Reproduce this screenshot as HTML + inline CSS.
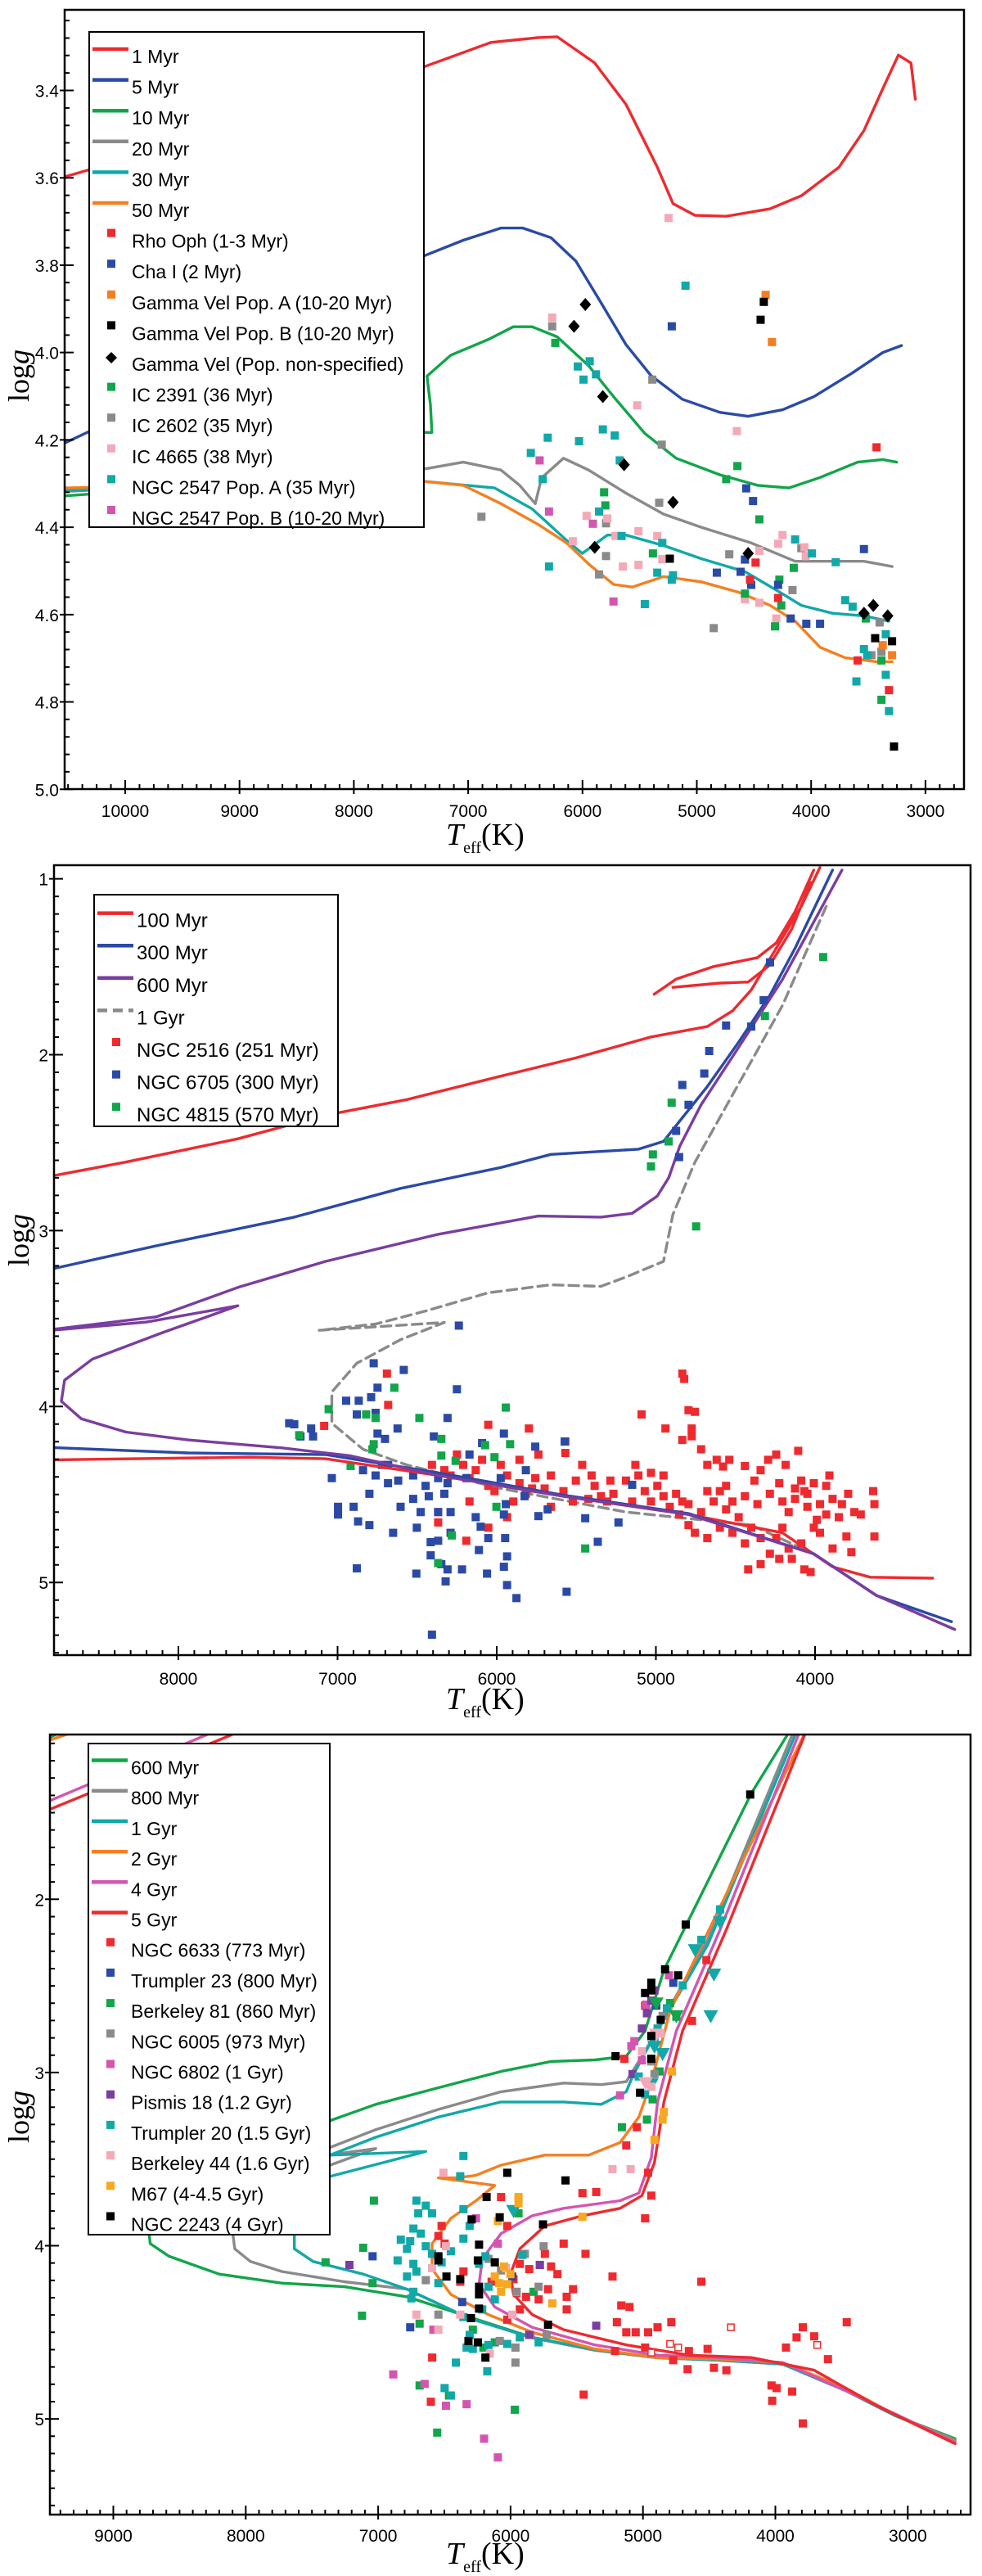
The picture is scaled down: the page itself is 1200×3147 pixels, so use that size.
<!DOCTYPE html>
<html><head><meta charset="utf-8">
<style>
html,body{margin:0;padding:0;background:#fff;}
svg{display:block;}
text{font-family:"Liberation Sans",sans-serif;}
.serif{font-family:"Liberation Serif",serif;}
</style></head>
<body>
<svg id="fig" width="1200" height="3147" viewBox="0 0 1200 3147" xmlns="http://www.w3.org/2000/svg"></svg>
<script>
// ===================== PANEL 1 DATA =====================
var p1_xTicks = [10000,9000,8000,7000,6000,5000,4000,3000];
var p1_xTickLabels = ["10000","9000","8000","7000","6000","5000","4000","3000"];
var p1_yTicks = [3.4,3.6,3.8,4.0,4.2,4.4,4.6,4.8,5.0];
var p1_yTickLabels = ["3.4","3.6","3.8","4.0","4.2","4.4","4.6","4.8","5.0"];
var p1_iso1 = [[10520,3.597],[9500,3.52],[8500,3.44],[7388,3.346],[6800,3.29],[6386,3.279],[6221,3.277],[5893,3.337],[5619,3.432],[5345,3.576],[5208,3.659],[5016,3.686],[4743,3.688],[4359,3.671],[4085,3.641],[3757,3.576],[3538,3.492],[3374,3.396],[3237,3.319],[3127,3.337],[3089,3.42]];
var p1_iso5 = [[10520,4.206],[9500,4.08],[8500,3.95],[7388,3.779],[7043,3.743],[6714,3.715],[6522,3.715],[6276,3.737],[6057,3.791],[5838,3.886],[5619,3.982],[5400,4.053],[5126,4.107],[4797,4.137],[4551,4.146],[4250,4.131],[3976,4.101],[3647,4.048],[3374,4.0],[3209,3.984]];
var p1_iso10 = [[10520,4.328],[9000,4.3],[7600,4.183],[7317,4.183],[7330,4.12],[7360,4.054],[7152,4.006],[6823,3.97],[6605,3.941],[6440,3.941],[6221,3.964],[5947,4.03],[5728,4.101],[5455,4.185],[5181,4.242],[4797,4.28],[4469,4.304],[4195,4.31],[3921,4.286],[3593,4.251],[3374,4.245],[3253,4.251]];
var p1_iso20 = [[10520,4.318],[9000,4.3],[7388,4.267],[7043,4.251],[6714,4.269],[6550,4.304],[6413,4.346],[6358,4.287],[6166,4.242],[5947,4.269],[5619,4.322],[5290,4.37],[4961,4.4],[4524,4.436],[4140,4.478],[3812,4.478],[3538,4.478],[3291,4.49]];
var p1_iso30 = [[10520,4.316],[9000,4.305],[7388,4.295],[6769,4.31],[6440,4.358],[6139,4.43],[6002,4.46],[5783,4.418],[5619,4.418],[5290,4.442],[4961,4.472],[4578,4.502],[4305,4.544],[4085,4.579],[3812,4.597],[3538,4.603],[3319,4.615]];
var p1_iso50 = [[10520,4.31],[9000,4.302],[7388,4.295],[7043,4.304],[6714,4.346],[6385,4.394],[6139,4.436],[5947,4.484],[5728,4.531],[5564,4.537],[5290,4.513],[4961,4.525],[4633,4.549],[4359,4.579],[4140,4.615],[3921,4.675],[3702,4.699],[3428,4.708],[3291,4.708]];
var p1_rhoOph = [[3428,4.217],[4486,4.481],[4289,4.562],[3593,4.705],[3319,4.773],[4535,4.52]];
var p1_chaI = [[5219,3.94],[4568,4.311],[4508,4.34],[4617,4.502],[4825,4.504],[4579,4.474],[4289,4.532],[4179,4.609],[4042,4.621],[3922,4.621],[3538,4.45],[4524,4.532]];
var p1_gvelA = [[4398,3.868],[4343,3.976],[3292,4.693],[3374,4.67]];
var p1_gvelB = [[4414,3.884],[4442,3.925],[5236,4.472],[3440,4.654],[3292,4.661],[3275,4.902]];
var p1_gvelNS = [[6074,3.94],[5975,3.89],[5822,4.101],[5636,4.257],[5208,4.343],[5893,4.446],[4551,4.46],[3538,4.597],[3456,4.579],[3330,4.603]];
var p1_ic2391 = [[6238,3.978],[5811,4.32],[5800,4.35],[5384,4.46],[4743,4.29],[4645,4.26],[4453,4.382],[4579,4.552],[4278,4.52],[4261,4.579],[4316,4.627],[4152,4.493],[3522,4.609],[3385,4.795],[3385,4.705]];
var p1_ic2602 = [[6265,3.94],[6884,4.376],[5855,4.508],[5794,4.466],[5794,4.391],[5389,4.062],[5307,4.211],[5329,4.344],[4716,4.462],[4852,4.631],[4163,4.544],[4086,4.448],[3401,4.618],[3473,4.693],[3385,4.685]];
var p1_ic4665 = [[6265,3.92],[5247,3.692],[5521,4.121],[4650,4.18],[5964,4.374],[5783,4.38],[5712,4.42],[5647,4.49],[6085,4.432],[5510,4.409],[5510,4.486],[5346,4.42],[5302,4.473],[4453,4.454],[4579,4.565],[4453,4.573],[4289,4.438],[4250,4.418],[4058,4.446],[4047,4.466],[4305,4.609]];
var p1_n2547A = [[5099,3.847],[6041,4.032],[5937,4.02],[5882,4.05],[5991,4.062],[6304,4.195],[6030,4.203],[5822,4.176],[5718,4.19],[6452,4.23],[6348,4.29],[5674,4.247],[5855,4.364],[6293,4.49],[5658,4.42],[5302,4.436],[5346,4.504],[5208,4.51],[5219,4.52],[5455,4.576],[4140,4.428],[3993,4.46],[3785,4.48],[3702,4.567],[3637,4.582],[3538,4.679],[3510,4.693],[3604,4.753],[3347,4.738],[3319,4.821],[3347,4.645]];
var p1_n2547B = [[6375,4.247],[6293,4.364],[5909,4.392],[5729,4.57]];

// ===================== PANEL 2 DATA =====================
var p2_xTicks = [8000,7000,6000,5000,4000];
var p2_xTickLabels = ["8000","7000","6000","5000","4000"];
var p2_yTicks = [1,2,3,4,5];
var p2_yTickLabels = ["1","2","3","4","5"];
var p2_iso100a = [[8775,2.686],[8334,2.611],[7626,2.478],[7076,2.344],[6564,2.255],[5975,2.122],[5503,2.018],[5031,1.899],[4677,1.84],[4519,1.751],[4401,1.632],[4244,1.395],[4087,1.157],[3969,0.935]];
var p2_iso100b = [[5011,1.656],[4873,1.57],[4637,1.499],[4362,1.448],[4244,1.365],[4126,1.187],[4008,0.95]];
var p2_iso100c = [[4893,1.617],[4598,1.593],[4420,1.587],[4284,1.49],[4146,1.285],[4028,1.02]];
var p2_iso100ms = [[8775,4.303],[7548,4.288],[7076,4.297],[6368,4.392],[5581,4.51],[4795,4.614],[4205,4.718],[3890,4.911],[3654,4.97],[3261,4.976]];
var p2_iso300a = [[8775,3.214],[8138,3.086],[7272,2.923],[6604,2.76],[5975,2.641],[5660,2.567],[5109,2.537],[4952,2.493],[4834,2.359],[4677,2.181],[4480,1.929],[4284,1.662],[4126,1.395],[3890,0.95]];
var p2_iso300ms = [[8775,4.234],[7941,4.264],[7076,4.273],[6368,4.377],[5581,4.504],[4795,4.608],[4008,4.837],[3615,5.074],[3143,5.223]];
var p2_iso600a = [[8775,3.56],[8138,3.49],[7626,3.323],[7076,3.175],[6368,3.021],[5739,2.917],[5346,2.923],[5149,2.902],[4992,2.804],[4920,2.7],[4850,2.52],[4716,2.285],[4480,1.958],[4205,1.573],[3831,0.95]];
var p2_iso600ms = [[8775,3.565],[8200,3.52],[7626,3.427],[8100,3.58],[8540,3.73],[8715,3.85],[8735,3.97],[8610,4.07],[8330,4.145],[7941,4.19],[7350,4.235],[6920,4.28],[6368,4.392],[5581,4.51],[4795,4.614],[4008,4.837],[3615,5.074],[3123,5.267]];
var p2_iso1g = [[3930,1.157],[4205,1.721],[4480,2.166],[4755,2.611],[4893,2.908],[4952,3.175],[5188,3.264],[5346,3.317],[5660,3.308],[6053,3.353],[6447,3.457],[6761,3.531],[7115,3.567],[6329,3.522],[6604,3.62],[6879,3.754],[7036,3.917],[7036,4.095],[6840,4.243],[6565,4.332],[5975,4.466],[5188,4.6],[4401,4.674],[4008,4.837],[3615,5.074],[3123,5.267]];
var p2_n6705 = [[4283,1.475],[4559,1.834],[4665,1.979],[4834,2.172],[4696,2.107],[4795,2.285],[4873,2.433],[4854,2.582],[4401,1.84],[4323,1.69],[6238,3.54],[6773,3.754],[6584,3.792],[6749,3.893],[6250,3.902],[6946,3.967],[6867,3.967],[6789,3.947],[6761,4.036],[6879,4.045],[7304,4.095],[7272,4.101],[6309,4.065],[6749,4.154],[6702,4.184],[7166,4.125],[7233,4.17],[7154,4.17],[6623,4.125],[6395,4.17],[5955,4.154],[5758,4.228],[5573,4.199],[6092,4.208],[7036,4.407],[6840,4.362],[6761,4.392],[6683,4.436],[6800,4.496],[6722,4.332],[6619,4.421],[6525,4.392],[6447,4.451],[6368,4.407],[6525,4.525],[6604,4.57],[6427,4.51],[6329,4.496],[6309,4.436],[6191,4.407],[6290,4.6],[6368,4.6],[6478,4.6],[6997,4.614],[6899,4.57],[6871,4.653],[6800,4.674],[6651,4.718],[6502,4.689],[6368,4.763],[6290,4.718],[6132,4.629],[6101,4.683],[5955,4.614],[5943,4.555],[5825,4.51],[5738,4.623],[5680,4.585],[5947,4.748],[5935,4.852],[5955,4.911],[6053,4.748],[6112,4.816],[6415,4.771],[6415,4.846],[6348,4.896],[6309,4.926],[6505,4.95],[6879,4.92],[6321,4.994],[6218,4.926],[6061,4.95],[5935,5.015],[5876,5.089],[5561,5.053],[5444,4.635],[5365,4.769],[5235,4.659],[5149,4.445],[6407,5.297],[6997,4.57],[6171,4.273],[5975,4.407],[5817,4.362],[6682,4.332]];
var p2_n4815 = [[3949,1.445],[4315,1.78],[4901,2.273],[4920,2.493],[5019,2.567],[5031,2.635],[4747,2.976],[6643,3.893],[7056,4.015],[5943,4.006],[6486,4.065],[6761,4.065],[6820,4.045],[7241,4.163],[6348,4.184],[6073,4.22],[5916,4.214],[6781,4.243],[6258,4.309],[6348,4.279],[6918,4.338],[6014,4.288],[6002,4.57],[6282,4.733],[5444,4.807],[6368,4.89],[6773,4.214]];
var p2_n2516 = [[4834,3.813],[4822,3.843],[4795,4.021],[4755,4.03],[4775,4.125],[4775,4.169],[4834,4.19],[5090,4.045],[4940,4.125],[4106,4.252],[4244,4.273],[6690,3.813],[6682,3.991],[7084,4.11],[6053,4.104],[5798,4.125],[5569,4.264],[5569,4.199],[4716,4.243],[4677,4.332],[4618,4.303],[4578,4.341],[4539,4.303],[4441,4.338],[4342,4.362],[4295,4.303],[4185,4.332],[4087,4.421],[4067,4.481],[4008,4.436],[3930,4.451],[3792,4.496],[3635,4.481],[3627,4.555],[3713,4.614],[3627,4.739],[3772,4.828],[3803,4.739],[3890,4.807],[3969,4.718],[3989,4.644],[4048,4.57],[4126,4.525],[4166,4.6],[4205,4.689],[4244,4.748],[4284,4.837],[4225,4.866],[4146,4.866],[4067,4.926],[4028,4.941],[4342,4.896],[4420,4.926],[4441,4.778],[4519,4.718],[4598,4.689],[4677,4.748],[4755,4.718],[4795,4.674],[4854,4.614],[4913,4.57],[4952,4.51],[4991,4.451],[5031,4.54],[5070,4.481],[5110,4.392],[5188,4.421],[5267,4.496],[5345,4.51],[5385,4.451],[5424,4.525],[5503,4.421],[5522,4.54],[5581,4.481],[5660,4.57],[5699,4.466],[5758,4.407],[5817,4.496],[5857,4.436],[5896,4.54],[5935,4.392],[5975,4.332],[6014,4.481],[6053,4.451],[6092,4.303],[6132,4.362],[6171,4.407],[6211,4.332],[6250,4.273],[6290,4.392],[6329,4.362],[6368,4.6],[6191,4.763],[6053,4.689],[6368,4.659],[6407,4.332],[5738,4.273],[5857,4.303],[4598,4.481],[4519,4.54],[4441,4.51],[4362,4.555],[4284,4.496],[4205,4.54],[4126,4.466],[4048,4.496],[3969,4.555],[3890,4.525],[3851,4.629],[3930,4.614],[4008,4.689],[4087,4.778],[4166,4.807],[4342,4.748],[4401,4.689],[4480,4.629],[4559,4.585],[4637,4.54],[4716,4.6],[4795,4.555],[4873,4.496],[4952,4.392],[5031,4.377],[5129,4.332],[5286,4.421],[5404,4.392],[5463,4.332],[5660,4.392],[5306,4.54],[5149,4.54],[4834,4.54],[4381,4.421],[4225,4.436],[3910,4.392],[3831,4.555],[3753,4.6],[4677,4.481],[4559,4.451],[6171,4.54],[5935,4.629],[5778,4.466]];

// ===================== PANEL 3 DATA =====================
var p3_xTicks = [9000,8000,7000,6000,5000,4000,3000];
var p3_xTickLabels = ["9000","8000","7000","6000","5000","4000","3000"];
var p3_yTicks = [2,3,4,5];
var p3_yTickLabels = ["2","3","4","5"];
var p3_iso600 = [[3873,1.006],[4180,1.386],[4559,1.971],[4842,2.409],[4984,2.76],[5126,2.906],[5363,2.927],[5694,2.936],[6072,2.994],[6545,3.088],[7018,3.184],[7397,3.287],[8000,3.42],[8500,3.55],[8740,3.7],[8735,3.9],[8721,3.988],[8579,4.061],[8201,4.164],[7728,4.216],[7255,4.237],[6782,4.295],[6309,4.412],[5836,4.529],[5363,4.602],[4890,4.646],[4417,4.661],[3944,4.684],[3471,4.836],[3092,4.982],[2643,5.114]];
var p3_iso800 = [[3849,1.006],[4511,2.234],[4984,2.877],[5079,2.994],[5126,3.053],[5315,3.07],[5599,3.061],[6072,3.111],[6545,3.213],[7018,3.33],[7364,3.433],[7600,3.5],[7018,3.439],[7364,3.535],[7900,3.65],[8097,3.8],[8097,3.935],[8083,4.018],[7964,4.091],[7728,4.149],[7255,4.208],[6782,4.251],[6309,4.42],[5836,4.532],[5363,4.604],[4890,4.648],[4417,4.662],[3944,4.684],[3471,4.836],[3092,4.982],[2643,5.12]];
var p3_iso1g = [[3826,1.006],[4511,2.263],[4937,2.819],[5079,3.023],[5126,3.111],[5315,3.184],[5599,3.17],[6072,3.17],[6545,3.257],[7018,3.374],[7364,3.477],[6640,3.456],[7364,3.6],[7600,3.78],[7633,3.935],[7633,4.018],[7491,4.091],[7113,4.164],[6782,4.251],[6309,4.42],[5836,4.53],[5363,4.6],[4890,4.646],[4417,4.66],[3944,4.684],[3471,4.836],[3092,4.982],[2643,5.125]];
var p3_iso2g = [[3755,1.006],[4464,2.117],[4795,2.643],[4937,3.053],[5031,3.257],[5173,3.404],[5410,3.477],[5741,3.477],[6072,3.535],[6262,3.594],[6403,3.608],[6545,3.608],[6120,3.652],[6261,3.74],[6451,3.842],[6593,3.988],[6593,4.134],[6451,4.281],[6167,4.398],[5836,4.5],[5363,4.596],[4890,4.646],[4417,4.655],[3944,4.675],[3471,4.822],[3092,4.977],[2643,5.129]];
var p3_iso4g = [[3802,1.006],[4417,2.175],[4748,2.76],[4890,3.17],[4937,3.491],[5031,3.696],[5173,3.74],[5599,3.784],[5836,3.827],[6072,3.93],[6214,4.076],[6238,4.222],[6119,4.354],[5836,4.471],[5363,4.573],[4890,4.632],[4417,4.646],[3944,4.675],[3471,4.836],[2643,5.135]];
var p3_iso5g = [[3755,1.006],[4370,2.175],[4701,2.76],[4842,3.17],[4913,3.52],[5008,3.711],[5173,3.784],[5457,3.827],[5741,3.886],[5930,4.018],[6001,4.164],[5978,4.281],[5836,4.398],[5599,4.485],[5126,4.573],[4653,4.632],[4180,4.646],[3707,4.719],[3234,4.924],[2643,5.143]];
var p3_preMS4g = [[9478,1.43],[8295,1.05]];
var p3_preMS5g = [[9478,1.48],[8106,1.05]];
var p3_preMS600 = [[9478,1.064],[9380,1.03]];
var p3_preMS2g = [[9478,1.08],[9280,1.03]];
var p3_n6633 = [[4984,3.842],[4937,3.711],[5126,3.421],[4961,3.579],[5457,3.696],[5353,3.69],[5046,3.316],[5140,2.921],[4984,2.614],[4521,2.351],[4630,2.702],[6072,3.719],[6025,3.886],[6521,3.886],[6545,3.944],[6498,3.988],[6356,4.149],[6380,4.208],[6143,4.208],[5930,4.105],[5859,4.135],[5741,4.047],[5694,4.12],[5646,4.164],[5599,3.988],[5434,4.047],[5717,4.251],[5576,4.295],[5528,4.251],[5576,4.368],[5788,4.31],[5883,4.295],[5978,4.193],[5930,4.368],[6025,4.427],[5230,4.178],[4559,4.208],[5164,4.345],[5102,4.354],[5197,4.442],[5126,4.5],[5055,4.5],[4961,4.5],[4890,4.471],[4786,4.442],[5211,4.608],[4984,4.588],[4772,4.661],[4663,4.713],[4653,4.608],[4512,4.596],[4464,4.705],[4370,4.719],[3920,4.588],[3840,4.529],[3793,4.471],[3707,4.523],[3603,4.655],[3461,4.442],[4029,4.807],[3991,4.822],[3873,4.842],[4024,4.895],[3793,5.026],[5448,4.86],[6602,4.901],[6592,4.646]];
var p3_n6633open = [[4336,4.471],[3684,4.573],[4795,4.567],[4734,4.588],[4937,4.617],[5954,4.275]];
var p3_tr23 = [[7042,4.061],[6758,4.471],[6365,4.325],[4771,2.482],[4899,2.614],[5987,4.178]];
var p3_be81 = [[7032,3.74],[7113,4.012],[7397,4.096],[7042,4.216],[7122,4.404],[6687,4.45],[6285,4.485],[6205,4.588],[5968,4.947],[6687,4.807],[6554,5.079],[6465,4.865],[5159,3.316],[4970,3.272],[4927,3.155],[4875,2.994],[4748,2.678],[4795,2.599],[5940,3.813],[5826,4.266],[6119,4.558]];
var p3_n6005 = [[4913,3.009],[4937,2.936],[4852,2.673],[6167,4.076],[6072,4.143],[5892,4.047],[5750,4.003],[5788,4.237],[5954,4.266],[6545,4.398],[6640,4.199],[6082,4.55],[5963,4.588],[5963,4.675],[5727,4.515]];
var p3_n6802 = [[5065,2.819],[5088,2.848],[5173,3.132],[5008,2.93],[4975,2.608],[4804,2.439],[6886,4.743],[6649,4.798],[6488,4.924],[6332,4.915],[6200,5.114],[6096,5.222],[6583,4.485],[6261,3.842],[6096,3.988],[5779,4.111],[5850,4.515]];
var p3_pis18 = [[5008,2.746],[4970,2.658],[4937,2.585],[4913,2.526],[5079,3.009],[7217,4.111],[5353,4.462],[5859,4.515],[5779,4.111]];
var p3_tr20 = [[6711,3.74],[6640,3.769],[6697,3.813],[6593,3.813],[6734,3.901],[6678,3.93],[6829,3.965],[6758,3.974],[6782,4.018],[6640,4.003],[6593,4.047],[6853,4.085],[6734,4.105],[6782,4.178],[6711,4.149],[6521,4.096],[6451,4.032],[6356,3.959],[6309,3.886],[6356,3.789],[6380,3.599],[6356,3.482],[6545,4.216],[6734,4.266],[6749,4.304],[6238,4.105],[6190,4.061],[6167,4.237],[6119,4.31],[6214,4.368],[6356,4.412],[6309,4.515],[6332,4.588],[6285,4.596],[6167,4.573],[6025,4.567],[5930,4.529],[5788,4.558],[6413,4.675],[6176,4.725],[6498,4.822],[6451,4.865],[5911,4.053],[5032,3.023],[4984,3.126],[4913,2.813],[4890,2.746],[4819,2.629],[4700,2.497],[4559,2.234],[4417,2.058]];
var p3_tr20tri = [[4488,2.673],[4464,2.433],[4417,2.132],[4606,2.292],[4852,2.892],[4937,3.067],[5978,3.798],[4913,2.85]];
var p3_be81tri = [[4748,2.673],[4900,2.6]];
var p3_be44 = [[6507,3.579],[5230,3.558],[5093,3.558],[6488,4.003],[6593,4.129],[6545,4.485],[6711,4.398],[6380,4.398],[4937,3.082],[5008,2.877],[4866,2.775],[5987,4.398],[6157,4.623],[6034,4.129]];
var p3_be44tri = [[4980,3.06],[4900,2.78]];
var p3_m67 = [[5940,3.719],[5940,3.754],[6096,3.857],[6049,4.12],[6001,4.164],[6087,4.216],[6025,4.222],[6072,4.266],[6119,4.178],[5684,4.333],[5457,3.833],[4781,2.994],[4842,3.228],[4913,3.389],[4852,3.272]];
var p3_n2243 = [[4190,1.395],[4677,2.146],[4833,2.404],[4734,2.439],[4937,2.482],[4984,2.541],[4937,2.526],[4866,2.696],[4937,2.789],[4937,2.921],[5207,2.906],[5022,3.117],[6025,3.579],[5585,3.623],[6181,3.719],[6082,3.836],[5755,3.877],[6294,3.848],[6238,3.994],[6247,4.085],[6119,4.096],[6545,4.061],[6545,4.085],[6484,4.178],[6380,4.193],[6238,4.237],[6238,4.281],[6238,4.363],[6299,4.418],[5717,4.456],[6318,4.55],[6247,4.558],[6190,4.646]];

// ===================== RENDERING =====================
var NS = "http://www.w3.org/2000/svg";
var svg = document.getElementById("fig");
function mk(tag, attrs, parent){
  var e = document.createElementNS(NS, tag);
  for (var k in attrs) e.setAttribute(k, attrs[k]);
  (parent || svg).appendChild(e);
  return e;
}
var C = {red:"#ee2a2f", blue:"#2a4aa6", green:"#12a54a", gray:"#8a8a8a", cyan:"#12a8a8", orange:"#f57f20", magenta:"#d455b0", purple:"#7a3da0", pink:"#f4a9b8", black:"#000", gold:"#f8a820"};

function makePanel(cfg){
  var g = mk("g", {});
  
  
  cfg.g = g;
  cfg.x = function(T){ return cfg.xT0 + (cfg.T0 - T) * cfg.xk; };
  cfg.y = function(v){ return cfg.yG0 + (v - cfg.G0) * cfg.yk; };
  var cp = mk("clipPath", {id: cfg.name + "-clip"}, g);
  mk("rect", {x: cfg.L, y: cfg.T, width: cfg.R - cfg.L, height: cfg.B - cfg.T}, cp);
  cfg.plot = mk("g", {"clip-path": "url(#" + cfg.name + "-clip)"}, g);
  
  
  return cfg;
}
function drawLine(cfg, data, color, name, dash){
  var d = data.map(function(p, i){ return (i ? "L" : "M") + cfg.x(p[0]).toFixed(1) + " " + cfg.y(p[1]).toFixed(1); }).join(" ");
  var a = {d: d, fill: "none", stroke: color, "stroke-width": 3.4, "stroke-linejoin": "round", "stroke-linecap": "round"};
  if (dash) a["stroke-dasharray"] = dash;
  var p = mk("path", a, cfg.plot);
  
  
}
function drawPoints(cfg, data, color, name, shape, s){
  s = s || 10;
  data.forEach(function(p){
    var cx = cfg.x(p[0]), cy = cfg.y(p[1]), e;
    if (shape === "diamond") {
      e = mk("polygon", {points: cx + "," + (cy - 8) + " " + (cx + 7) + "," + cy + " " + cx + "," + (cy + 8) + " " + (cx - 7) + "," + cy, fill: color}, cfg.plot);
    } else if (shape === "tri") {
      e = mk("polygon", {points: (cx - 9) + "," + (cy - 7) + " " + (cx + 9) + "," + (cy - 7) + " " + cx + "," + (cy + 9), fill: color}, cfg.plot);
    } else if (shape === "open") {
      e = mk("rect", {x: cx - s / 2 + 1, y: cy - s / 2 + 1, width: s - 2, height: s - 2, fill: "#fff", stroke: color, "stroke-width": 1.5}, cfg.plot);
    } else {
      e = mk("rect", {x: cx - s / 2, y: cy - s / 2, width: s, height: s, fill: color}, cfg.plot);
    }
    
    
  });
}
function drawAxes(cfg){
  var g = cfg.g;
  var box = mk("rect", {x: cfg.L, y: cfg.T, width: cfg.R - cfg.L, height: cfg.B - cfg.T, fill: "none", stroke: "#000", "stroke-width": 2.5}, g);
  
  
  var t = "";
  for (var T = cfg.xMinorFrom; T >= cfg.xMinorTo; T -= cfg.xMinorStep) {
    var x = cfg.x(T); if (x < cfg.L + 2 || x > cfg.R - 2) continue;
    t += "M" + x + " " + cfg.B + "v-6 ";
  }
  cfg.xTicks.forEach(function(T){
    var x = cfg.x(T); if (x < cfg.L || x > cfg.R) return;
    t += "M" + x + " " + (cfg.B + 6) + "V" + (cfg.B - 11) + " ";
  });
  for (var v = cfg.yMinorFrom; v <= cfg.yMinorTo + 1e-6; v += cfg.yMinorStep) {
    var y = cfg.y(v); if (y < cfg.T + 2 || y > cfg.B - 2) continue;
    t += "M" + cfg.L + " " + y + "h6 ";
  }
  cfg.yTicks.forEach(function(v){
    var y = cfg.y(v);
    t += "M" + (cfg.L - 6) + " " + y + "H" + (cfg.L + 11) + " ";
  });
  var tk = mk("path", {d: t, stroke: "#000", "stroke-width": 2, fill: "none"}, g);
  
  
  cfg.xTicks.forEach(function(T, i){
    var e = mk("text", {x: cfg.x(T), y: cfg.xLabY, "font-size": 21, "text-anchor": "middle", fill: "#000"}, g);
    e.textContent = cfg.xTickLabels[i];
    
    
  });
  cfg.yTicks.forEach(function(v, i){
    var e = mk("text", {x: cfg.L - 7, y: cfg.y(v) + 8, "font-size": 21, "text-anchor": "end", fill: "#000"}, g);
    e.textContent = cfg.yTickLabels[i];
    
    
  });
  var xt = mk("text", {x: 545, y: cfg.xTitleY, "font-size": 38, "class": "serif", fill: "#000"}, g);
  xt.innerHTML = '<tspan font-style="italic">T</tspan><tspan font-size="20" dy="10">eff</tspan><tspan dy="-10">(K)</tspan>';
  
  
  var yt = mk("text", {x: 0, y: 0, "font-size": 36, "class": "serif", "text-anchor": "middle", fill: "#000", transform: "translate(" + 35 + "," + cfg.yTitleY + ") rotate(-90)"}, g);
  yt.innerHTML = 'log<tspan font-style="italic">g</tspan>';
  
  
}
function drawLegend(cfg, lg, entries){
  var g = mk("g", {}, cfg.g);
  
  
  mk("rect", {x: lg.x, y: lg.y, width: lg.w, height: lg.h, fill: "#fff", stroke: "#000", "stroke-width": 2}, g);
  entries.forEach(function(en, i){
    var cy = lg.c0 + i * lg.step;
    var eg = mk("g", {}, g);
    
    
    if (en.t === "line") {
      var a = {x1: lg.x + 4, x2: lg.x + 48, y1: cy - 9, y2: cy - 9, stroke: en.c, "stroke-width": 4.5};
      if (en.dash) a["stroke-dasharray"] = "12 7";
      mk("line", a, eg);
    } else if (en.t === "diamond") {
      var mx = lg.x + 27;
      mk("polygon", {points: mx + "," + (cy - 15) + " " + (mx + 7) + "," + (cy - 8) + " " + mx + "," + (cy - 1) + " " + (mx - 7) + "," + (cy - 8), fill: en.c}, eg);
    } else {
      mk("rect", {x: lg.x + 22, y: cy - 15, width: 10, height: 10, fill: en.c}, eg);
    }
    var tx = mk("text", {x: lg.x + 52, y: cy + 8, "font-size": lg.fs, fill: "#000"}, eg);
    tx.textContent = en.label;
  });
}

// ---------- Panel 1 ----------
var P1 = makePanel({name: "panel-young-clusters", L: 79, R: 1178, T: 12, B: 964, T0: 10000, xT0: 153, xk: 0.1397, G0: 3.4, yG0: 110.5, yk: 533.6,
  xTicks: p1_xTicks, xTickLabels: p1_xTickLabels, yTicks: p1_yTicks, yTickLabels: p1_yTickLabels,
  xMinorFrom: 11000, xMinorTo: 2500, xMinorStep: 125, yMinorFrom: 3.2, yMinorTo: 5.0, yMinorStep: 0.04,
  xLabY: 998, xTitleY: 1032, yTitleY: 459});
drawLine(P1, p1_iso1, C.red, "isochrone-1-myr");
drawLine(P1, p1_iso5, C.blue, "isochrone-5-myr");
drawLine(P1, p1_iso10, C.green, "isochrone-10-myr");
drawLine(P1, p1_iso20, C.gray, "isochrone-20-myr");
drawLine(P1, p1_iso30, C.cyan, "isochrone-30-myr");
drawLine(P1, p1_iso50, C.orange, "isochrone-50-myr");
drawPoints(P1, p1_ic2602, C.gray, "ic2602-star");
drawPoints(P1, p1_ic4665, C.pink, "ic4665-star");
drawPoints(P1, p1_ic2391, C.green, "ic2391-star");
drawPoints(P1, p1_n2547A, C.cyan, "ngc2547a-star");
drawPoints(P1, p1_n2547B, C.magenta, "ngc2547b-star");
drawPoints(P1, p1_chaI, C.blue, "cha-i-star");
drawPoints(P1, p1_rhoOph, C.red, "rho-oph-star");
drawPoints(P1, p1_gvelA, C.orange, "gamma-vel-a-star");
drawPoints(P1, p1_gvelB, C.black, "gamma-vel-b-star");
drawPoints(P1, p1_gvelNS, C.black, "gamma-vel-ns-star", "diamond");
drawLegend(P1, {x: 109, y: 39, w: 409, h: 605, c0: 69, step: 37.6, fs: 23}, [
  {t:"line", c:C.red, label:"1 Myr"},{t:"line", c:C.blue, label:"5 Myr"},{t:"line", c:C.green, label:"10 Myr"},
  {t:"line", c:C.gray, label:"20 Myr"},{t:"line", c:C.cyan, label:"30 Myr"},{t:"line", c:C.orange, label:"50 Myr"},
  {t:"sq", c:C.red, label:"Rho Oph (1-3 Myr)"},{t:"sq", c:C.blue, label:"Cha I (2 Myr)"},
  {t:"sq", c:C.orange, label:"Gamma Vel Pop. A (10-20 Myr)"},{t:"sq", c:C.black, label:"Gamma Vel Pop. B (10-20 Myr)"},
  {t:"diamond", c:C.black, label:"Gamma Vel (Pop. non-specified)"},{t:"sq", c:C.green, label:"IC 2391 (36 Myr)"},
  {t:"sq", c:C.gray, label:"IC 2602 (35 Myr)"},{t:"sq", c:C.pink, label:"IC 4665 (38 Myr)"},
  {t:"sq", c:C.cyan, label:"NGC 2547 Pop. A (35 Myr)"},{t:"sq", c:C.magenta, label:"NGC 2547 Pop. B (10-20 Myr)"}]);
drawAxes(P1);

// ---------- Panel 2 ----------
var P2 = makePanel({name: "panel-intermediate-clusters", L: 66, R: 1186, T: 1057, B: 2022, T0: 8000, xT0: 218, xk: 0.1945, G0: 1, yG0: 1073.6, yk: 214.9,
  xTicks: p2_xTicks, xTickLabels: p2_xTickLabels, yTicks: p2_yTicks, yTickLabels: p2_yTickLabels,
  xMinorFrom: 9000, xMinorTo: 2900, xMinorStep: 100, yMinorFrom: 0.9, yMinorTo: 5.5, yMinorStep: 0.1,
  xLabY: 2058, xTitleY: 2088, yTitleY: 1515});
drawLine(P2, p2_iso100a, C.red, "isochrone-100-myr");
drawLine(P2, p2_iso100b, C.red, "isochrone-100-myr-loop");
drawLine(P2, p2_iso100c, C.red, "isochrone-100-myr-loop");
drawLine(P2, p2_iso300a, C.blue, "isochrone-300-myr");
drawLine(P2, p2_iso600a, C.purple, "isochrone-600-myr");
drawLine(P2, p2_iso1g, C.gray, "isochrone-1-gyr", "12 7");
drawPoints(P2, p2_n2516, C.red, "ngc2516-star");
drawPoints(P2, p2_n6705, C.blue, "ngc6705-star");
drawPoints(P2, p2_n4815, C.green, "ngc4815-star");
drawLine(P2, p2_iso100ms, C.red, "isochrone-100-myr-ms");
drawLine(P2, p2_iso300ms, C.blue, "isochrone-300-myr-ms");
drawLine(P2, p2_iso600ms, C.purple, "isochrone-600-myr-ms");
drawLegend(P2, {x: 115, y: 1093, w: 298, h: 283, c0: 1124.6, step: 39.6, fs: 24}, [
  {t:"line", c:C.red, label:"100 Myr"},{t:"line", c:C.blue, label:"300 Myr"},{t:"line", c:C.purple, label:"600 Myr"},
  {t:"line", c:C.gray, label:"1 Gyr", dash:true},{t:"sq", c:C.red, label:"NGC 2516 (251 Myr)"},
  {t:"sq", c:C.blue, label:"NGC 6705 (300 Myr)"},{t:"sq", c:C.green, label:"NGC 4815 (570 Myr)"}]);
drawAxes(P2);

// ---------- Panel 3 ----------
var P3 = makePanel({name: "panel-old-clusters", L: 61, R: 1186, T: 2119, B: 3072, T0: 9000, xT0: 138.5, xk: 0.1618, G0: 2, yG0: 2320.3, yk: 211.6,
  xTicks: p3_xTicks, xTickLabels: p3_xTickLabels, yTicks: p3_yTicks, yTickLabels: p3_yTickLabels,
  xMinorFrom: 9600, xMinorTo: 2400, xMinorStep: 100, yMinorFrom: 1.0, yMinorTo: 5.6, yMinorStep: 0.1,
  xLabY: 3105, xTitleY: 3132, yTitleY: 2586});
drawLine(P3, p3_preMS600, C.green, "isochrone-600-myr-upper");
drawLine(P3, p3_preMS2g, C.orange, "isochrone-2-gyr-upper");
drawLine(P3, p3_preMS4g, C.magenta, "isochrone-4-gyr-upper");
drawLine(P3, p3_preMS5g, C.red, "isochrone-5-gyr-upper");
drawLine(P3, p3_iso600, C.green, "isochrone-600-myr");
drawLine(P3, p3_iso800, C.gray, "isochrone-800-myr");
drawLine(P3, p3_iso1g, C.cyan, "isochrone-1-gyr");
drawLine(P3, p3_iso2g, C.orange, "isochrone-2-gyr");
drawLine(P3, p3_iso4g, C.magenta, "isochrone-4-gyr");
drawLine(P3, p3_iso5g, C.red, "isochrone-5-gyr");
drawPoints(P3, p3_n6633, C.red, "ngc6633-star");
drawPoints(P3, p3_n6633open, C.red, "ngc6633-star-open", "open");
drawPoints(P3, p3_tr23, C.blue, "trumpler23-star");
drawPoints(P3, p3_be81, C.green, "berkeley81-star");
drawPoints(P3, p3_n6005, C.gray, "ngc6005-star");
drawPoints(P3, p3_n6802, C.magenta, "ngc6802-star");
drawPoints(P3, p3_pis18, C.purple, "pismis18-star");
drawPoints(P3, p3_tr20, C.cyan, "trumpler20-star");
drawPoints(P3, p3_tr20tri, C.cyan, "trumpler20-giant", "tri");
drawPoints(P3, p3_be81tri, C.green, "berkeley81-giant", "tri");
drawPoints(P3, p3_be44, C.pink, "berkeley44-star");
drawPoints(P3, p3_be44tri, C.pink, "berkeley44-giant", "tri");
drawPoints(P3, p3_m67, C.gold, "m67-star");
drawPoints(P3, p3_n2243, C.black, "ngc2243-star");
drawLegend(P3, {x: 108, y: 2130, w: 295, h: 600, c0: 2159.5, step: 37.2, fs: 23}, [
  {t:"line", c:C.green, label:"600 Myr"},{t:"line", c:C.gray, label:"800 Myr"},{t:"line", c:C.cyan, label:"1 Gyr"},
  {t:"line", c:C.orange, label:"2 Gyr"},{t:"line", c:C.magenta, label:"4 Gyr"},{t:"line", c:C.red, label:"5 Gyr"},
  {t:"sq", c:C.red, label:"NGC 6633 (773 Myr)"},{t:"sq", c:C.blue, label:"Trumpler 23 (800 Myr)"},
  {t:"sq", c:C.green, label:"Berkeley 81 (860 Myr)"},{t:"sq", c:C.gray, label:"NGC 6005 (973 Myr)"},
  {t:"sq", c:C.magenta, label:"NGC 6802 (1 Gyr)"},{t:"sq", c:C.purple, label:"Pismis 18 (1.2 Gyr)"},
  {t:"sq", c:C.cyan, label:"Trumpler 20 (1.5 Gyr)"},{t:"sq", c:C.pink, label:"Berkeley 44 (1.6 Gyr)"},
  {t:"sq", c:C.gold, label:"M67 (4-4.5 Gyr)"},{t:"sq", c:C.black, label:"NGC 2243 (4 Gyr)"}]);
drawAxes(P3);
</script>
</body></html>
